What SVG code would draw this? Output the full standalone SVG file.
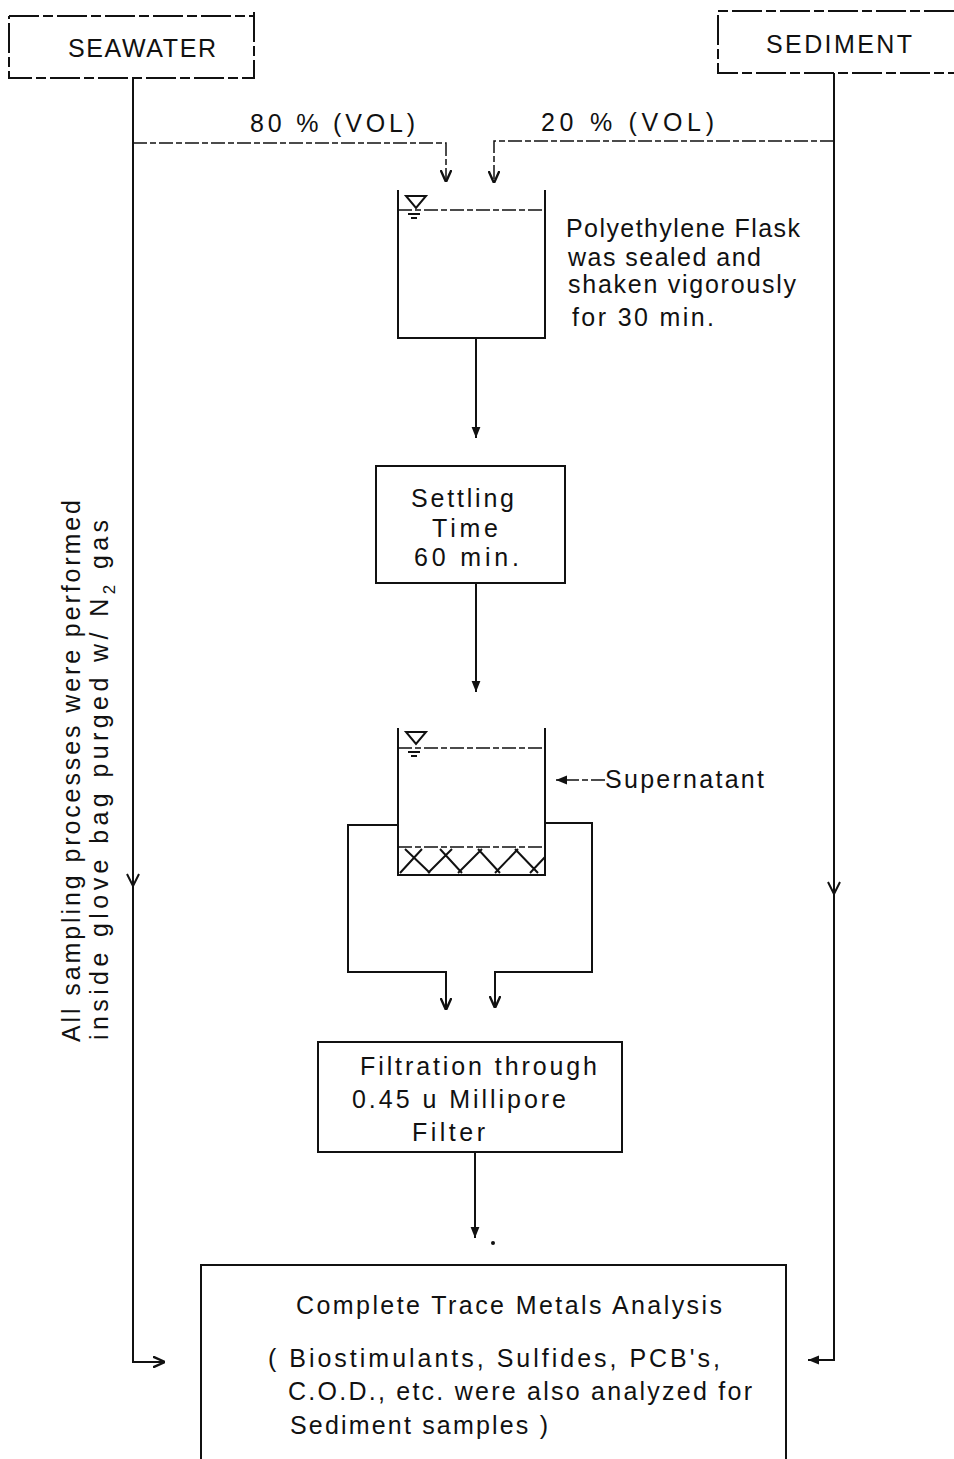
<svg xmlns="http://www.w3.org/2000/svg" width="954" height="1459" viewBox="0 0 954 1459">
<style>
.t{font-family:"Liberation Sans",Arial,sans-serif;fill:#111;font-size:25px}
.box{fill:none;stroke:#111;stroke-width:2}
.ln{fill:none;stroke:#111;stroke-width:2}
.dl{fill:none;stroke:#111;stroke-width:1.5;stroke-dasharray:14 3 6 3}
</style>
<defs>
<marker id="arr" viewBox="0 0 10 10" refX="10" refY="5" markerWidth="12" markerHeight="12" markerUnits="userSpaceOnUse" orient="auto">
<path d="M0,0.5 L10,5 L0,9.5" fill="none" stroke="#111" stroke-width="2"/>
</marker>
<marker id="arrf" viewBox="0 0 10 10" refX="10" refY="5" markerWidth="11" markerHeight="11" markerUnits="userSpaceOnUse" orient="auto">
<path d="M0,1 L10,5 L0,9 Z" fill="#111"/>
</marker>
</defs>
<rect width="954" height="1459" fill="#fff"/>

<g id="connectors">
<path class="ln" d="M133,78 V1362 H165" marker-end="url(#arr)"/>
<path class="ln" d="M127,874 L133,886 L139,874"/>
<path class="dl" d="M133,143 H446 V182" marker-end="url(#arr)"/>
<path class="ln" d="M834,73 V1360 H808" marker-end="url(#arrf)"/>
<path class="ln" d="M828,882 L834,894 L840,882"/>
<path class="dl" d="M834,141 H494 V183" marker-end="url(#arr)"/>
<path class="ln" d="M476,338 V438" marker-end="url(#arrf)"/>
<path class="ln" d="M476,583 V692" marker-end="url(#arrf)"/>
<path class="dl" d="M605,780 H556" marker-end="url(#arrf)"/>
<path class="ln" d="M398,825 H348 V972 H446 V1010" marker-end="url(#arr)"/>
<path class="ln" d="M545,823 H592 V972 H495 V1008" marker-end="url(#arr)"/>
<path class="ln" d="M475,1152 V1238" marker-end="url(#arrf)"/>
<circle cx="493" cy="1243" r="2" fill="#111"/>
</g>

<g id="seawater">
<path class="box" d="M9,16 H254 M254,12 V78 H9 V16" stroke-dasharray="30 4 10 4"/>
<text class="t" x="68" y="57" textLength="148" font-size="24">SEAWATER</text>
</g>

<g id="sediment">
<path class="box" d="M954,11 H718 V73 H954" stroke-dasharray="30 4 10 4"/>
<text class="t" x="766" y="53" textLength="146" font-size="24">SEDIMENT</text>
</g>

<g id="label-80">
<text class="t" x="250" y="132" textLength="165" font-size="25">80 % (VOL)</text>
</g>
<g id="label-20">
<text class="t" x="541" y="131" textLength="173" font-size="27">20 % (VOL)</text>
</g>

<g id="flask1">
<path class="ln" d="M398,190 V338 H545 V190" stroke-width="2.5"/>
<path class="dl" d="M398,210 H545" stroke-width="1.3"/>
<path class="ln" d="M406,196 H426 L416,208 Z" stroke-width="1.5"/>
<path class="ln" d="M408,214 H420 M411,218 H417" stroke-width="1.3"/>
<text class="t" x="566" y="237" textLength="234">Polyethylene Flask</text>
<text class="t" x="568" y="266" textLength="193">was sealed and</text>
<text class="t" x="568" y="293" textLength="228">shaken vigorously</text>
<text class="t" x="572" y="326" textLength="142">for 30 min.</text>
</g>

<g id="settling">
<rect class="box" x="376" y="466" width="189" height="117"/>
<text class="t" x="411" y="507" textLength="103" font-size="26">Settling</text>
<text class="t" x="432" y="537" textLength="66" font-size="26">Time</text>
<text class="t" x="414" y="566" textLength="105" font-size="26">60 min.</text>
</g>

<g id="flask2">
<path class="ln" d="M398,728 V875 H545 V728" stroke-width="2.5"/>
<path class="dl" d="M398,748 H545" stroke-width="1.3"/>
<path class="ln" d="M406,732 H426 L416,744 Z" stroke-width="1.5"/>
<path class="ln" d="M408,752 H420 M411,756 H417" stroke-width="1.3"/>
<path class="dl" d="M398,847 H545" stroke-width="1.3"/>
<path class="ln" stroke-width="1.5" d="M400,873 L422,849 M405,849 L430,873 M428,873 L452,849 M440,849 L462,873 M458,873 L482,849 M478,849 L500,873 M495,873 L518,849 M515,849 L538,873 M530,873 L545,857"/>
<text class="t" x="605" y="788" textLength="159">Supernatant</text>
</g>

<g id="filtration">
<rect class="box" x="318" y="1042" width="304" height="110"/>
<text class="t" x="360" y="1075" textLength="237">Filtration through</text>
<text class="t" x="352" y="1108" textLength="214">0.45 u Millipore</text>
<text class="t" x="412" y="1141" textLength="73">Filter</text>
</g>

<g id="analysis">
<path class="box" d="M201,1459 V1265 H786 V1459"/>
<text class="t" x="296" y="1314" textLength="426">Complete  Trace Metals Analysis</text>
<text class="t" x="268" y="1367" textLength="452">( Biostimulants, Sulfides, PCB's,</text>
<text class="t" x="288" y="1400" textLength="464">C.O.D., etc. were also analyzed for</text>
<text class="t" x="290" y="1434" textLength="258">Sediment samples )</text>
</g>

<g id="note">
<text class="t" transform="translate(80,1042) rotate(-90)" x="0" y="0" textLength="542" font-size="26">All sampling processes were performed</text>
<text class="t" transform="translate(108,1040) rotate(-90)" x="0" y="0" font-size="26" textLength="520">inside glove bag  purged  w/ N<tspan font-size="17" dy="7">2</tspan><tspan dy="-7">   gas</tspan></text>
</g>
</svg>
